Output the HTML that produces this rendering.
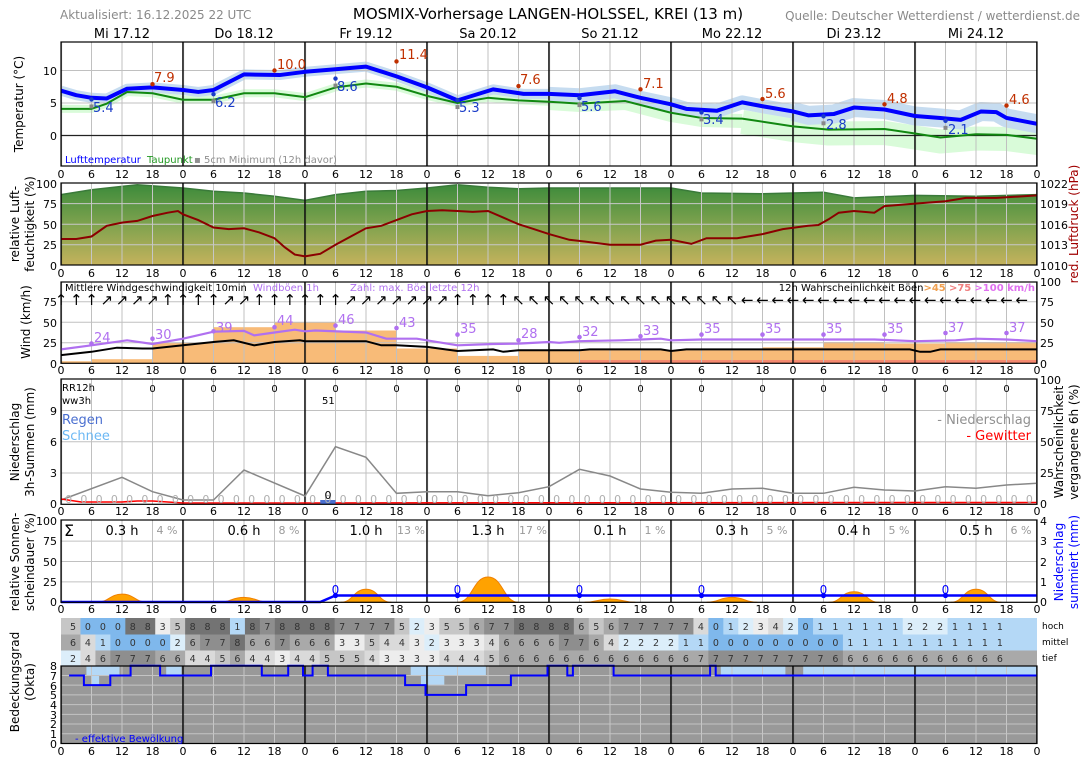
<!DOCTYPE html>
<html><head><meta charset="utf-8">
<style>
html,body{margin:0;padding:0;background:#fff;}
svg{display:block;font-family:"DejaVu Sans","Liberation Sans",sans-serif;}
.tk{font-size:11px;fill:#000;text-anchor:middle;}
.yl{font-size:11px;fill:#000;text-anchor:end;}
.yr{font-size:11px;fill:#000;text-anchor:start;}
.ax{font-size:13px;fill:#000;text-anchor:middle;}
</style></head>
<body>
<svg width="1088" height="763" viewBox="0 0 1088 763" xmlns="http://www.w3.org/2000/svg">
<defs>
<linearGradient id="hg" gradientUnits="userSpaceOnUse" x1="0" y1="183" x2="0" y2="265">
<stop offset="0" stop-color="#3a8a3a"/><stop offset="0.5" stop-color="#7ea24e"/><stop offset="1" stop-color="#c4b25c"/>
</linearGradient>
<pattern id="vg" x="60.5" y="0" width="30.5" height="10" patternUnits="userSpaceOnUse"><rect x="0" y="0" width="1" height="10" fill="#c0c0c0"/></pattern>
<pattern id="vgw" x="60.5" y="0" width="30.5" height="10" patternUnits="userSpaceOnUse"><rect x="0" y="0" width="1" height="10" fill="#c6c6c6"/></pattern>
<pattern id="dg" x="60.2" y="0" width="122" height="10" patternUnits="userSpaceOnUse"><rect x="0" y="0" width="1.6" height="10" fill="#111"/></pattern>
<clipPath id="tc"><rect x="61" y="42" width="976" height="124"/></clipPath>
</defs>

<!-- ============ TEMPERATURE ============ -->
<g fill="none" stroke-linejoin="round" stroke-linecap="butt" clip-path="url(#tc)">
<polyline stroke="#d9fbd9" stroke-width="8" points="61,108.85 91.5,108.85 106.75,103.65 127.08,91.95 152.5,93.25 183,99.75 213.5,99.75 244,93.25 274.5,93.25 305,97.15 335.5,87.4 366,83.5 396.5,86.75 427,95.85 457.5,103 488,97.8 518.5,100.4 549,101.7"/>
<polyline stroke="#d9fbd9" stroke-width="14" points="549,103 579.5,105 625.25,103 671,115 701.5,120 742.17,121"/>
<polyline stroke="#d9fbd9" stroke-width="24" points="742.17,122 793,130 828.58,133.5 884.5,133 915,137.5 940.42,141.5 976,138.5 1006.5,139 1037,143 1045,143"/>
<polyline stroke="#c6dcf0" stroke-width="10" points="61,90.65 76.25,95.2 91.5,97.8 106.75,98.45 127.08,88.7 152.5,87.4 183,90 198.25,91.95 213.5,90 244,74.4 279.58,75.05 305,71.8 335.5,69.2 366,66.6 396.5,76.35 427,87.4 457.5,100.4 493.08,89.35 523.58,93.9 549,93.9"/>
<polyline stroke="#c6dcf0" stroke-width="14" points="549,93.9 579.5,95.2 615.08,91.3 640.5,97.8 671,104.3 686.25,108.85 716.75,110.8 742.17,102.35 762.5,106.25 793,111.45"/>
<polyline stroke="#c6dcf0" stroke-width="19" points="793,111.45 808.25,115.35 833.67,114.05 854,107.55 884.5,109.5 915,116 940.42,117.95 960.75,119.9 981.08,111.45 996.33,112.1 1006.5,117.95 1037,123.8 1045,125"/>
</g>
<rect x="61" y="42" width="976" height="124" fill="url(#vg)"/>
<line x1="61" x2="1037" y1="70.5" y2="70.5" stroke="#c0c0c0"/>
<line x1="61" x2="1037" y1="103" y2="103" stroke="#c0c0c0"/>
<line x1="61" x2="1037" y1="135.5" y2="135.5" stroke="#222" stroke-width="1.2"/>
<rect x="61" y="42" width="976" height="124" fill="url(#dg)"/>
<polyline fill="none" stroke="#118811" stroke-width="2" stroke-linejoin="round" points="61,108.85 91.5,108.85 106.75,103.65 127.08,91.95 152.5,93.25 183,99.75 213.5,99.75 244,93.25 274.5,93.25 305,97.15 335.5,87.4 366,83.5 396.5,86.75 427,95.85 457.5,103 488,97.8 518.5,100.4 549,101.7 579.5,103.65 625.25,101.05 671,112.75 701.5,117.95 742.17,118.6 793,126.4 828.58,129.65 884.5,129 915,133.55 940.42,137.45 976,134.2 1006.5,134.85 1037,138.75"/>
<polyline fill="none" stroke="#0000ff" stroke-width="4" stroke-linejoin="round" points="61,90.65 76.25,95.2 91.5,97.8 106.75,98.45 127.08,88.7 152.5,87.4 183,90 198.25,91.95 213.5,90 244,74.4 279.58,75.05 305,71.8 335.5,69.2 366,66.6 396.5,76.35 427,87.4 457.5,100.4 493.08,89.35 523.58,93.9 549,93.9 579.5,95.2 615.08,91.3 640.5,97.8 671,104.3 686.25,108.85 716.75,110.8 742.17,102.35 762.5,106.25 793,111.45 808.25,115.35 833.67,114.05 854,107.55 884.5,109.5 915,116 940.42,117.95 960.75,119.9 981.08,111.45 996.33,112.1 1006.5,117.95 1037,123.8"/>
<g fill="#c03000">
<circle cx="152.5" cy="84.15" r="2.2"/><circle cx="274.5" cy="70.5" r="2.2"/><circle cx="396.5" cy="61.4" r="2.2"/><circle cx="518.5" cy="86.1" r="2.2"/>
<circle cx="640.5" cy="89.35" r="2.2"/><circle cx="762.5" cy="99.1" r="2.2"/><circle cx="884.5" cy="104.3" r="2.2"/><circle cx="1006.5" cy="105.6" r="2.2"/>
</g>
<g fill="#1a3cc8">
<circle cx="91.5" cy="99.4" r="2.2"/><circle cx="213.5" cy="94.2" r="2.2"/><circle cx="335.5" cy="78.6" r="2.2"/><circle cx="457.5" cy="100.05" r="2.2"/>
<circle cx="579.5" cy="98.1" r="2.2"/><circle cx="701.5" cy="112.4" r="2.2"/><circle cx="823.5" cy="116.3" r="2.2"/><circle cx="945.5" cy="120.85" r="2.2"/>
</g>
<g fill="#888">
<rect x="89.5" y="104.4" width="4" height="4"/><rect x="211.5" y="99.2" width="4" height="4"/><rect x="333.5" y="83.6" width="4" height="4"/><rect x="455.5" y="105.05" width="4" height="4"/>
<rect x="577.5" y="103.1" width="4" height="4"/><rect x="699.5" y="117.4" width="4" height="4"/><rect x="821.5" y="121.3" width="4" height="4"/><rect x="943.5" y="125.85" width="4" height="4"/>
</g>
<rect x="61" y="42" width="976" height="124" fill="none" stroke="#000" stroke-width="1.2"/>

<!-- ============ HUMIDITY ============ -->
<polygon fill="url(#hg)" points="61,265.3 61,194.6 91.5,189.7 122,186.4 137.25,184.7 183,188 213.5,191.3 244,193 274.5,196.3 305,200.4 335.5,194.6 366,191.3 396.5,190.5 427,188 457.5,184.7 488,187.2 518.5,188.8 549,188 671,188 701.5,193 762.5,193.8 793,193 823.5,192.2 854,197.9 915,195.4 976,196.3 1037,194.6 1037,265.3"/>
<polyline fill="none" stroke="#3a7a3a" stroke-width="1.5" points="61,194.6 91.5,189.7 122,186.4 137.25,184.7 183,188 213.5,191.3 244,193 274.5,196.3 305,200.4 335.5,194.6 366,191.3 396.5,190.5 427,188 457.5,184.7 488,187.2 518.5,188.8 549,188 671,188 701.5,193 762.5,193.8 793,193 823.5,192.2 854,197.9 915,195.4 976,196.3 1037,194.6"/>
<rect x="61" y="183" width="976" height="82" fill="url(#vgw)"/>
<line x1="61" x2="1037" y1="203.65" y2="203.65" stroke="#c8c8c8"/>
<line x1="61" x2="1037" y1="224.2" y2="224.2" stroke="#c8c8c8"/>
<line x1="61" x2="1037" y1="244.75" y2="244.75" stroke="#c8c8c8"/>
<rect x="61" y="183" width="976" height="82" fill="url(#dg)"/>
<polyline fill="none" stroke="#8b0000" stroke-width="2" points="61,239 76.25,239 91.5,236.5 106.75,225.8 122,222.6 137.25,220.9 152.5,216 167.75,212.7 177.92,211 183,214.3 198.25,220.1 213.5,227.5 228.75,229.1 244,228.3 259.25,232.4 274.5,238.2 284.67,247.2 294.83,254.6 305,256.3 320.25,253.8 335.5,244.75 350.75,236.5 366,228.3 381.25,225.8 396.5,220.1 411.75,214.3 427,211 442.25,210.2 457.5,211 472.75,211.9 488,211 503.25,217.6 518.5,224.2 533.75,229.1 549,234.1 569.33,239.8 584.58,241.5 610,244.75 640.5,244.75 655.75,240.6 671,239.8 691.33,243.9 706.58,238.2 737.08,238.2 762.5,234.1 782.83,229.1 808.25,225.8 818.42,225 828.58,219.3 838.75,212.7 854,211 874.33,212.7 884.5,206.1 915,203.65 945.5,201.2 965.83,197.9 996.33,197.9 1037,195.4"/>
<rect x="61" y="183" width="976" height="82" fill="none" stroke="#000" stroke-width="1.2"/>

<!-- ============ WIND ============ -->
<g fill="#f8bb78">
<rect x="61" y="361.25" width="30.5" height="2.05"/><rect x="91.5" y="359.2" width="61" height="4.1"/><rect x="152.5" y="342.8" width="61" height="20.5"/>
<rect x="213.5" y="327.2" width="61" height="36.1"/><rect x="274.5" y="322.3" width="61" height="41"/><rect x="335.5" y="330.5" width="61" height="32.8"/>
<rect x="396.5" y="348.5" width="61" height="14.8"/><rect x="457.5" y="355.9" width="61" height="7.4"/><rect x="518.5" y="351" width="30.5" height="12.3"/>
<rect x="549" y="350.2" width="213.5" height="13.1"/><rect x="762.5" y="347.3" width="61" height="16"/><rect x="823.5" y="342" width="61" height="21.3"/>
<rect x="884.5" y="343.6" width="61" height="19.7"/><rect x="945.5" y="342" width="91.5" height="21.3"/>
</g>
<rect x="579.5" y="360" width="457.5" height="3.3" fill="#f58a70"/>
<rect x="61" y="282" width="976" height="81.3" fill="url(#vg)"/>
<line x1="61" x2="1037" y1="301.8" y2="301.8" stroke="#c0c0c0"/>
<line x1="61" x2="1037" y1="322.3" y2="322.3" stroke="#c0c0c0"/>
<line x1="61" x2="1037" y1="342.8" y2="342.8" stroke="#c0c0c0"/>
<rect x="61" y="282" width="976" height="81.3" fill="url(#dg)"/>
<polyline fill="none" stroke="#b070f0" stroke-width="2.2" points="61,349.4 91.5,345.3 127.1,340.3 152.5,344 183,338.7 213.5,331.7 244,330.9 254.2,335.4 274.5,332.5 294.8,329.7 305,331.3 315.2,330.5 366,332.5 386.3,338.7 416.8,338.7 457.5,345.3 493.1,344 518.5,343.6 549,342 559.2,342.8 579.5,341.2 620.2,340.3 660.8,338.7 671,340.3 701.5,339.5 874.3,339.5 915,341.2 955.7,340.3 976,338.7 1006.5,339.5 1037,341.2"/>
<polyline fill="none" stroke="#000" stroke-width="2" points="61,355.1 91.5,351.8 116.9,347.7 142.3,348.5 152.5,348.5 183,345.3 213.5,342 233.8,340.3 254.2,345.3 274.5,342 299.9,340.3 305,341.2 366,341.2 381.25,345.3 396.5,345.3 427,346.9 457.5,351 493.1,349.4 503.25,351.8 518.5,350.2 579.5,350.2 589.7,349.4 660.8,349.4 671,351 686.25,349.4 909.9,349.4 920.1,351.8 930.25,351.8 940.4,349.4 1037,349.4"/>
<g fill="#b070f0">
<circle cx="91.5" cy="343.6" r="2.3"/><circle cx="152.5" cy="338.7" r="2.3"/><circle cx="213.5" cy="331.3" r="2.3"/><circle cx="274.5" cy="327.2" r="2.3"/>
<circle cx="335.5" cy="325.6" r="2.3"/><circle cx="396.5" cy="328" r="2.3"/><circle cx="457.5" cy="334.6" r="2.3"/><circle cx="518.5" cy="340.3" r="2.3"/>
<circle cx="579.5" cy="337.1" r="2.3"/><circle cx="640.5" cy="336.2" r="2.3"/><circle cx="701.5" cy="334.6" r="2.3"/><circle cx="762.5" cy="334.6" r="2.3"/>
<circle cx="823.5" cy="334.6" r="2.3"/><circle cx="884.5" cy="334.6" r="2.3"/><circle cx="945.5" cy="333" r="2.3"/><circle cx="1006.5" cy="333" r="2.3"/>
</g>
<text y="305" text-anchor="middle" style="font-size:15px;fill:#000" x="61 76.25 91.5 106.75 122 137.25 152.5 167.75 183 198.25 213.5 228.75 244 259.25 274.5 289.75 305 320.25 335.5 350.75 366 381.25 396.5 411.75 427 442.25 457.5 472.75 488 503.25 518.5 533.75 549 564.25 579.5 594.75 610 625.25 640.5 655.75 671 686.25 701.5 716.75 732 747.25 762.5 777.75 793 808.25 823.5 838.75 854 869.25 884.5 899.75 915 930.25 945.5 960.75 976 991.25 1006.5 1021.75">↑↑↑↗↗↗↗↑↑↑↑↗↗↑↑↑↑↑↑↗↗↗↗↗↗↗↑↑↑↑↖↖↖↖↖↖↖↖↖↖↖↖↖↖↖←←←←←←←←←←←←←←←←←←←</text>
<rect x="61" y="282" width="976" height="81.3" fill="none" stroke="#000" stroke-width="1.2"/>

<!-- ============ PRECIP ============ -->
<rect x="61" y="379" width="976" height="125.3" fill="url(#vg)"/>
<line x1="61" x2="1037" y1="410.55" y2="410.55" stroke="#c0c0c0"/>
<line x1="61" x2="1037" y1="441.8" y2="441.8" stroke="#c0c0c0"/>
<line x1="61" x2="1037" y1="473.05" y2="473.05" stroke="#c0c0c0"/>
<rect x="61" y="379" width="976" height="125.3" fill="url(#dg)"/>
<polyline fill="none" stroke="#888" stroke-width="1.5" points="61,500 122,477.3 152.5,491.7 183,500 213.5,500 244,470 305,496 335.5,446.7 366,457.3 396.5,493.3 427,491.7 457.5,491.7 488,495.7 518.5,492.7 549,486.7 579.5,469.3 610,476 640.5,489 671,492.3 701.5,493.3 732,489 762.5,488.3 793,493.3 823.5,493.3 854,487.3 884.5,490 915,491 945.5,486.7 976,488.3 1006.5,485 1037,483.3"/>
<polyline fill="none" stroke="#ff0000" stroke-width="1.6" points="61,499 81.3,502 122,502 137.3,501 152.5,501 183,503 305,503 1037,502.5"/>
<rect x="320.25" y="500" width="15.25" height="4" fill="#4a6fd0"/>
<text y="503" transform="translate(7.6,0)" text-anchor="middle" style="font-size:11px;fill:#b0b0b0" x="61 76.25 91.5 106.75 122 137.25 152.5 167.75 183 198.25 213.5 228.75 244 259.25 274.5 289.75 305 320.25 335.5 350.75 366 381.25 396.5 411.75 427 442.25 457.5 472.75 488 503.25 518.5 533.75 549 564.25 579.5 594.75 610 625.25 640.5 655.75 671 686.25 701.5 716.75 732 747.25 762.5 777.75 793 808.25 823.5 838.75 854 869.25 884.5 899.75 915 930.25 945.5 960.75 976 991.25 1006.5 1021.75">0000000000000000000000000000000000000000000000000000000000000000</text>
<rect x="61" y="379" width="976" height="125.3" fill="none" stroke="#000" stroke-width="1.2"/>

<!-- ============ SUN ============ -->
<rect x="61" y="520" width="976" height="82.3" fill="url(#vg)"/>
<line x1="61" x2="1037" y1="541.1" y2="541.1" stroke="#c0c0c0"/>
<line x1="61" x2="1037" y1="561.5" y2="561.5" stroke="#c0c0c0"/>
<line x1="61" x2="1037" y1="581.9" y2="581.9" stroke="#c0c0c0"/>
<rect x="61" y="520" width="976" height="82.3" fill="url(#dg)"/>
<g fill="#ffa200" stroke="#f08000" stroke-width="1">
<path d="M96.6,602.3 C109.3,602.3 109.3,594.14 122,594.14 C134.7,594.14 134.7,602.3 147.4,602.3 Z"/>
<path d="M218.6,602.3 C231.3,602.3 231.3,597.4 244,597.4 C256.7,597.4 256.7,602.3 269.4,602.3 Z"/>
<path d="M340.6,602.3 C353.3,602.3 353.3,589.24 366,589.24 C378.7,589.24 378.7,602.3 391.4,602.3 Z"/>
<path d="M457.5,602.3 C472.75,602.3 472.75,577 488,577 C503.25,577 503.25,602.3 518.5,602.3 Z"/>
<path d="M584.6,602.3 C597.3,602.3 597.3,599.04 610,599.04 C622.7,599.04 622.7,602.3 635.4,602.3 Z"/>
<path d="M706.6,602.3 C719.3,602.3 719.3,597.4 732,597.4 C744.7,597.4 744.7,602.3 757.4,602.3 Z"/>
<path d="M828.6,602.3 C841.3,602.3 841.3,591.7 854,591.7 C866.7,591.7 866.7,602.3 879.4,602.3 Z"/>
<path d="M950.6,602.3 C963.3,602.3 963.3,589.24 976,589.24 C988.7,589.24 988.7,602.3 1001.4,602.3 Z"/>
</g>
<polyline fill="none" stroke="#0000ff" stroke-width="2.5" points="61,602 320.25,602 335.5,595.5 1037,595.5"/>
<g fill="#0000ff">
<circle cx="335.5" cy="595.5" r="2.6"/><circle cx="457.5" cy="595.5" r="2.6"/><circle cx="579.5" cy="595.5" r="2.6"/><circle cx="701.5" cy="595.5" r="2.6"/><circle cx="823.5" cy="595.5" r="2.6"/><circle cx="945.5" cy="595.5" r="2.6"/>
</g>
<rect x="61" y="520" width="976" height="82.3" fill="none" stroke="#000" stroke-width="1.2"/>

<!-- ============ CLOUD TABLE ============ -->
<g>
<rect y="618" height="16.5" width="976" x="61" fill="#c6c6c6"/>
<rect y="618" height="16.5" x="80.48" width="956.52" fill="#7fb8ec"/>
<rect y="618" height="16.5" x="125.33" width="911.67" fill="#737373"/>
<rect y="618" height="16.5" x="155.23" width="881.77" fill="#ededed"/>
<rect y="618" height="16.5" x="170.18" width="866.82" fill="#c6c6c6"/>
<rect y="618" height="16.5" x="185.13" width="851.87" fill="#737373"/>
<rect y="618" height="16.5" x="229.98" width="807.02" fill="#b4d8f6"/>
<rect y="618" height="16.5" x="244.93" width="792.07" fill="#737373"/>
<rect y="618" height="16.5" x="259.88" width="777.12" fill="#8e8e8e"/>
<rect y="618" height="16.5" x="274.83" width="762.17" fill="#737373"/>
<rect y="618" height="16.5" x="334.63" width="702.37" fill="#8e8e8e"/>
<rect y="618" height="16.5" x="394.43" width="642.57" fill="#c6c6c6"/>
<rect y="618" height="16.5" x="409.38" width="627.62" fill="#dceefa"/>
<rect y="618" height="16.5" x="424.33" width="612.67" fill="#ededed"/>
<rect y="618" height="16.5" x="439.28" width="597.72" fill="#c6c6c6"/>
<rect y="618" height="16.5" x="469.18" width="567.82" fill="#a9a9a9"/>
<rect y="618" height="16.5" x="484.13" width="552.87" fill="#8e8e8e"/>
<rect y="618" height="16.5" x="514.03" width="522.97" fill="#737373"/>
<rect y="618" height="16.5" x="573.83" width="463.17" fill="#a9a9a9"/>
<rect y="618" height="16.5" x="588.78" width="448.22" fill="#c6c6c6"/>
<rect y="618" height="16.5" x="603.73" width="433.27" fill="#a9a9a9"/>
<rect y="618" height="16.5" x="618.68" width="418.32" fill="#8e8e8e"/>
<rect y="618" height="16.5" x="693.43" width="343.57" fill="#dadada"/>
<rect y="618" height="16.5" x="708.38" width="328.62" fill="#7fb8ec"/>
<rect y="618" height="16.5" x="723.33" width="313.67" fill="#b4d8f6"/>
<rect y="618" height="16.5" x="738.28" width="298.72" fill="#dceefa"/>
<rect y="618" height="16.5" x="753.23" width="283.77" fill="#ededed"/>
<rect y="618" height="16.5" x="768.18" width="268.82" fill="#dadada"/>
<rect y="618" height="16.5" x="783.13" width="253.87" fill="#dceefa"/>
<rect y="618" height="16.5" x="798.08" width="238.92" fill="#7fb8ec"/>
<rect y="618" height="16.5" x="813.03" width="223.97" fill="#b4d8f6"/>
<rect y="618" height="16.5" x="902.73" width="134.27" fill="#dceefa"/>
<rect y="618" height="16.5" x="947.58" width="89.42" fill="#b4d8f6"/>
<rect y="634.5" height="16" x="61" width="976" fill="#a9a9a9"/>
<rect y="634.5" height="16" x="80.48" width="956.52" fill="#dadada"/>
<rect y="634.5" height="16" x="95.43" width="941.57" fill="#b4d8f6"/>
<rect y="634.5" height="16" x="110.38" width="926.62" fill="#7fb8ec"/>
<rect y="634.5" height="16" x="170.18" width="866.82" fill="#dceefa"/>
<rect y="634.5" height="16" x="185.13" width="851.87" fill="#a9a9a9"/>
<rect y="634.5" height="16" x="200.08" width="836.92" fill="#8e8e8e"/>
<rect y="634.5" height="16" x="229.98" width="807.02" fill="#737373"/>
<rect y="634.5" height="16" x="244.93" width="792.07" fill="#a9a9a9"/>
<rect y="634.5" height="16" x="274.83" width="762.17" fill="#8e8e8e"/>
<rect y="634.5" height="16" x="289.78" width="747.22" fill="#a9a9a9"/>
<rect y="634.5" height="16" x="334.63" width="702.37" fill="#ededed"/>
<rect y="634.5" height="16" x="364.53" width="672.47" fill="#c6c6c6"/>
<rect y="634.5" height="16" x="379.48" width="657.52" fill="#dadada"/>
<rect y="634.5" height="16" x="409.38" width="627.62" fill="#ededed"/>
<rect y="634.5" height="16" x="424.33" width="612.67" fill="#dceefa"/>
<rect y="634.5" height="16" x="439.28" width="597.72" fill="#ededed"/>
<rect y="634.5" height="16" x="484.13" width="552.87" fill="#dadada"/>
<rect y="634.5" height="16" x="499.08" width="537.92" fill="#a9a9a9"/>
<rect y="634.5" height="16" x="558.88" width="478.12" fill="#8e8e8e"/>
<rect y="634.5" height="16" x="588.78" width="448.22" fill="#a9a9a9"/>
<rect y="634.5" height="16" x="603.73" width="433.27" fill="#dadada"/>
<rect y="634.5" height="16" x="618.68" width="418.32" fill="#dceefa"/>
<rect y="634.5" height="16" x="678.48" width="358.52" fill="#b4d8f6"/>
<rect y="634.5" height="16" x="708.38" width="328.62" fill="#7fb8ec"/>
<rect y="634.5" height="16" x="842.93" width="194.07" fill="#b4d8f6"/>
<rect y="650.5" height="15.5" x="61" width="976" fill="#dceefa"/>
<rect y="650.5" height="15.5" x="80.48" width="956.52" fill="#dadada"/>
<rect y="650.5" height="15.5" x="95.43" width="941.57" fill="#a9a9a9"/>
<rect y="650.5" height="15.5" x="110.38" width="926.62" fill="#8e8e8e"/>
<rect y="650.5" height="15.5" x="155.23" width="881.77" fill="#a9a9a9"/>
<rect y="650.5" height="15.5" x="185.13" width="851.87" fill="#dadada"/>
<rect y="650.5" height="15.5" x="215.03" width="821.97" fill="#c6c6c6"/>
<rect y="650.5" height="15.5" x="229.98" width="807.02" fill="#a9a9a9"/>
<rect y="650.5" height="15.5" x="244.93" width="792.07" fill="#dadada"/>
<rect y="650.5" height="15.5" x="274.83" width="762.17" fill="#ededed"/>
<rect y="650.5" height="15.5" x="289.78" width="747.22" fill="#dadada"/>
<rect y="650.5" height="15.5" x="319.68" width="717.32" fill="#c6c6c6"/>
<rect y="650.5" height="15.5" x="364.53" width="672.47" fill="#dadada"/>
<rect y="650.5" height="15.5" x="379.48" width="657.52" fill="#ededed"/>
<rect y="650.5" height="15.5" x="439.28" width="597.72" fill="#dadada"/>
<rect y="650.5" height="15.5" x="484.13" width="552.87" fill="#c6c6c6"/>
<rect y="650.5" height="15.5" x="499.08" width="537.92" fill="#a9a9a9"/>
<rect y="650.5" height="15.5" x="708.38" width="328.62" fill="#8e8e8e"/>
<rect y="650.5" height="15.5" x="842.93" width="194.07" fill="#a9a9a9"/>
</g>
<g style="font-size:9.5px;fill:#333" text-anchor="middle">
<text y="630" x="73 87.95 102.9 117.85 132.8 147.75 162.7 177.65 192.6 207.55 222.5 237.45 252.4 267.35 282.3 297.25 312.2 327.15 342.1 357.05 372 386.95 401.9 416.85 431.8 446.75 461.7 476.65 491.6 506.55 521.5 536.45 551.4 566.35 581.3 596.25 611.2 626.15 641.1 656.05 671 685.95 700.9 715.85 730.8 745.75 760.7 775.65 790.6 805.55 820.5 835.45 850.4 865.35 880.3 895.25 910.2 925.15 940.1 955.05 970 984.95 999.9">500088358881878888777752355677888865677777401234201111112221111</text>
<text y="646" x="73 87.95 102.9 117.85 132.8 147.75 162.7 177.65 192.6 207.55 222.5 237.45 252.4 267.35 282.3 297.25 312.2 327.15 342.1 357.05 372 386.95 401.9 416.85 431.8 446.75 461.7 476.65 491.6 506.55 521.5 536.45 551.4 566.35 581.3 596.25 611.2 626.15 641.1 656.05 671 685.95 700.9 715.85 730.8 745.75 760.7 775.65 790.6 805.55 820.5 835.45 850.4 865.35 880.3 895.25 910.2 925.15 940.1 955.05 970 984.95 999.9">641000026778667666335443233346666776422221100000000011111111111</text>
<text y="662" x="73 87.95 102.9 117.85 132.8 147.75 162.7 177.65 192.6 207.55 222.5 237.45 252.4 267.35 282.3 297.25 312.2 327.15 342.1 357.05 372 386.95 401.9 416.85 431.8 446.75 461.7 476.65 491.6 506.55 521.5 536.45 551.4 566.35 581.3 596.25 611.2 626.15 641.1 656.05 671 685.95 700.9 715.85 730.8 745.75 760.7 775.65 790.6 805.55 820.5 835.45 850.4 865.35 880.3 895.25 910.2 925.15 940.1 955.05 970 984.95 999.9">246777664456443445554333344456666666666666777777777666666666666</text>
</g>

<!-- ============ CLOUD PLOT ============ -->
<rect x="61" y="666" width="976" height="77.5" fill="#999"/>
<g fill="#b4d8f6">
<rect x="86.42" y="665.74" width="33.04" height="9.72"/><rect x="91.5" y="675.46" width="7.62" height="9.72"/>
<rect x="166.2" y="665.74" width="15.25" height="9.72"/><rect x="410.7" y="665.74" width="75.2" height="9.72"/>
<rect x="420.9" y="675.46" width="23.4" height="9.72"/><rect x="720.8" y="665.74" width="64.6" height="9.72"/>
<rect x="803.2" y="665.74" width="233.8" height="9.72"/>
</g>
<rect x="61" y="666" width="976" height="77.5" fill="url(#vgw)"/>
<g stroke="#c4c4c4">
<line x1="61" x2="1037" y1="675.46" y2="675.46"/><line x1="61" x2="1037" y1="685.18" y2="685.18"/><line x1="61" x2="1037" y1="694.9" y2="694.9"/>
<line x1="61" x2="1037" y1="704.62" y2="704.62"/><line x1="61" x2="1037" y1="714.34" y2="714.34"/><line x1="61" x2="1037" y1="724.06" y2="724.06"/><line x1="61" x2="1037" y1="733.78" y2="733.78"/>
</g>
<rect x="61" y="666" width="976" height="77.5" fill="url(#dg)"/>
<polyline fill="none" stroke="#0000ff" stroke-width="2" points="69.1,675.46 83.9,675.46 83.9,685.18 110.3,685.18 110.3,675.46 130.6,675.46 130.6,665.74 160.1,665.74 160.1,675.46 211,675.46 211,665.74 261.8,665.74 261.8,675.46 288.2,675.46 288.2,665.74 303,665.74 303,675.46 312.6,675.46 312.6,665.74 327.9,665.74 327.9,675.46 405.1,675.46 405.1,685.18 425.5,685.18 425.5,694.9 466.1,694.9 466.1,685.18 510.9,685.18 510.9,675.46 547.5,675.46 547.5,665.74 567.3,665.74 567.3,675.46 572.9,675.46 572.9,665.74 613.6,665.74 613.6,675.46 710.1,675.46 710.1,665.74 715.7,665.74 715.7,675.46 1037,675.46"/>
<rect x="61" y="666" width="976" height="77.5" fill="none" stroke="#000" stroke-width="1.2"/>

<!-- ============ TEXT ============ -->
<text x="60" y="19" style="font-size:12px;fill:#8a8a8a">Aktualisiert: 16.12.2025 22 UTC</text>
<text x="548" y="19" style="font-size:15px;fill:#000;text-anchor:middle">MOSMIX-Vorhersage LANGEN-HOLSSEL, KREI (13 m)</text>
<text x="1080" y="20" style="font-size:12px;fill:#8a8a8a;text-anchor:end">Quelle: Deutscher Wetterdienst / wetterdienst.de</text>
<g class="ax">
<text x="122" y="38">Mi 17.12</text><text x="244" y="38">Do 18.12</text><text x="366" y="38">Fr 19.12</text><text x="488" y="38">Sa 20.12</text>
<text x="610" y="38">So 21.12</text><text x="732" y="38">Mo 22.12</text><text x="854" y="38">Di 23.12</text><text x="976" y="38">Mi 24.12</text>
</g>

<g style="font-size:12px;fill:#000;text-anchor:middle">
<text transform="translate(23,104) rotate(-90)">Temperatur (°C)</text>
<text transform="translate(19,224) rotate(-90)">relative Luft-</text>
<text transform="translate(34,224) rotate(-90)">feuchtigkeit (%)</text>
<text transform="translate(30,322) rotate(-90)">Wind (km/h)</text>
<text transform="translate(19,442) rotate(-90)">Niederschlag</text>
<text transform="translate(34,442) rotate(-90)">3h-Summen (mm)</text>
<text transform="translate(19,562) rotate(-90)">relative Sonnen-</text>
<text transform="translate(34,562) rotate(-90)">scheindauer (%)</text>
<text transform="translate(19,682) rotate(-90)">Bedeckungsgrad</text>
<text transform="translate(34,682) rotate(-90)">(Okta)</text>
<text transform="translate(1078,224) rotate(-90)" style="fill:#a00000">red. Luftdruck (hPa)</text>
<text transform="translate(1063,442) rotate(-90)">Wahrscheinlichkeit</text>
<text transform="translate(1078,442) rotate(-90)">vergangene 6h (%)</text>
<text transform="translate(1063,562) rotate(-90)" style="fill:#0000ff">Niederschlag</text>
<text transform="translate(1078,562) rotate(-90)" style="fill:#0000ff">summiert (mm)</text>
</g>

<g class="yl">
<text x="57" y="75">10</text><text x="57" y="107">5</text><text x="57" y="140">0</text>
<text x="57" y="188">100</text><text x="57" y="208">75</text><text x="57" y="229">50</text><text x="57" y="249">25</text><text x="57" y="270">0</text>
<text x="57" y="306">75</text><text x="57" y="327">50</text><text x="57" y="347">25</text><text x="57" y="368">0</text>
<text x="57" y="415">9</text><text x="57" y="446">6</text><text x="57" y="477">3</text><text x="57" y="508">0</text>
<text x="57" y="525">100</text><text x="57" y="545">75</text><text x="57" y="566">50</text><text x="57" y="586">25</text><text x="57" y="606">0</text>
</g>
<g style="font-size:11px;text-anchor:end">
<text x="57" y="670">8</text><text x="57" y="680">7</text><text x="57" y="690">6</text><text x="57" y="699">5</text><text x="57" y="709">4</text><text x="57" y="719">3</text><text x="57" y="728">2</text><text x="57" y="738">1</text><text x="57" y="748">0</text>
</g>
<g class="yr">
<text x="1040" y="188">1022</text><text x="1040" y="208">1019</text><text x="1040" y="229">1016</text><text x="1040" y="249">1013</text><text x="1040" y="270">1010</text>
<text x="1040" y="286">100</text><text x="1040" y="306">75</text><text x="1040" y="327">50</text><text x="1040" y="347">25</text><text x="1040" y="368">0</text>
<text x="1040" y="384">100</text><text x="1040" y="415">75</text><text x="1040" y="446">50</text><text x="1040" y="477">25</text><text x="1040" y="508">0</text>
<text x="1040" y="525">4</text><text x="1040" y="545">3</text><text x="1040" y="566">2</text><text x="1040" y="586">1</text><text x="1040" y="606">0</text>
</g>

<g class="tk">
<text y="178"><tspan x="61">0</tspan><tspan x="91.5">6</tspan><tspan x="122">12</tspan><tspan x="152.5">18</tspan><tspan x="183">0</tspan><tspan x="213.5">6</tspan><tspan x="244">12</tspan><tspan x="274.5">18</tspan><tspan x="305">0</tspan><tspan x="335.5">6</tspan><tspan x="366">12</tspan><tspan x="396.5">18</tspan><tspan x="427">0</tspan><tspan x="457.5">6</tspan><tspan x="488">12</tspan><tspan x="518.5">18</tspan><tspan x="549">0</tspan><tspan x="579.5">6</tspan><tspan x="610">12</tspan><tspan x="640.5">18</tspan><tspan x="671">0</tspan><tspan x="701.5">6</tspan><tspan x="732">12</tspan><tspan x="762.5">18</tspan><tspan x="793">0</tspan><tspan x="823.5">6</tspan><tspan x="854">12</tspan><tspan x="884.5">18</tspan><tspan x="915">0</tspan><tspan x="945.5">6</tspan><tspan x="976">12</tspan><tspan x="1006.5">18</tspan><tspan x="1037">0</tspan></text>
<text y="277"><tspan x="61">0</tspan><tspan x="91.5">6</tspan><tspan x="122">12</tspan><tspan x="152.5">18</tspan><tspan x="183">0</tspan><tspan x="213.5">6</tspan><tspan x="244">12</tspan><tspan x="274.5">18</tspan><tspan x="305">0</tspan><tspan x="335.5">6</tspan><tspan x="366">12</tspan><tspan x="396.5">18</tspan><tspan x="427">0</tspan><tspan x="457.5">6</tspan><tspan x="488">12</tspan><tspan x="518.5">18</tspan><tspan x="549">0</tspan><tspan x="579.5">6</tspan><tspan x="610">12</tspan><tspan x="640.5">18</tspan><tspan x="671">0</tspan><tspan x="701.5">6</tspan><tspan x="732">12</tspan><tspan x="762.5">18</tspan><tspan x="793">0</tspan><tspan x="823.5">6</tspan><tspan x="854">12</tspan><tspan x="884.5">18</tspan><tspan x="915">0</tspan><tspan x="945.5">6</tspan><tspan x="976">12</tspan><tspan x="1006.5">18</tspan><tspan x="1037">0</tspan></text>
<text y="374"><tspan x="61">0</tspan><tspan x="91.5">6</tspan><tspan x="122">12</tspan><tspan x="152.5">18</tspan><tspan x="183">0</tspan><tspan x="213.5">6</tspan><tspan x="244">12</tspan><tspan x="274.5">18</tspan><tspan x="305">0</tspan><tspan x="335.5">6</tspan><tspan x="366">12</tspan><tspan x="396.5">18</tspan><tspan x="427">0</tspan><tspan x="457.5">6</tspan><tspan x="488">12</tspan><tspan x="518.5">18</tspan><tspan x="549">0</tspan><tspan x="579.5">6</tspan><tspan x="610">12</tspan><tspan x="640.5">18</tspan><tspan x="671">0</tspan><tspan x="701.5">6</tspan><tspan x="732">12</tspan><tspan x="762.5">18</tspan><tspan x="793">0</tspan><tspan x="823.5">6</tspan><tspan x="854">12</tspan><tspan x="884.5">18</tspan><tspan x="915">0</tspan><tspan x="945.5">6</tspan><tspan x="976">12</tspan><tspan x="1006.5">18</tspan><tspan x="1037">0</tspan></text>
<text y="515"><tspan x="61">0</tspan><tspan x="91.5">6</tspan><tspan x="122">12</tspan><tspan x="152.5">18</tspan><tspan x="183">0</tspan><tspan x="213.5">6</tspan><tspan x="244">12</tspan><tspan x="274.5">18</tspan><tspan x="305">0</tspan><tspan x="335.5">6</tspan><tspan x="366">12</tspan><tspan x="396.5">18</tspan><tspan x="427">0</tspan><tspan x="457.5">6</tspan><tspan x="488">12</tspan><tspan x="518.5">18</tspan><tspan x="549">0</tspan><tspan x="579.5">6</tspan><tspan x="610">12</tspan><tspan x="640.5">18</tspan><tspan x="671">0</tspan><tspan x="701.5">6</tspan><tspan x="732">12</tspan><tspan x="762.5">18</tspan><tspan x="793">0</tspan><tspan x="823.5">6</tspan><tspan x="854">12</tspan><tspan x="884.5">18</tspan><tspan x="915">0</tspan><tspan x="945.5">6</tspan><tspan x="976">12</tspan><tspan x="1006.5">18</tspan><tspan x="1037">0</tspan></text>
<text y="613"><tspan x="61">0</tspan><tspan x="91.5">6</tspan><tspan x="122">12</tspan><tspan x="152.5">18</tspan><tspan x="183">0</tspan><tspan x="213.5">6</tspan><tspan x="244">12</tspan><tspan x="274.5">18</tspan><tspan x="305">0</tspan><tspan x="335.5">6</tspan><tspan x="366">12</tspan><tspan x="396.5">18</tspan><tspan x="427">0</tspan><tspan x="457.5">6</tspan><tspan x="488">12</tspan><tspan x="518.5">18</tspan><tspan x="549">0</tspan><tspan x="579.5">6</tspan><tspan x="610">12</tspan><tspan x="640.5">18</tspan><tspan x="671">0</tspan><tspan x="701.5">6</tspan><tspan x="732">12</tspan><tspan x="762.5">18</tspan><tspan x="793">0</tspan><tspan x="823.5">6</tspan><tspan x="854">12</tspan><tspan x="884.5">18</tspan><tspan x="915">0</tspan><tspan x="945.5">6</tspan><tspan x="976">12</tspan><tspan x="1006.5">18</tspan><tspan x="1037">0</tspan></text>
<text y="755"><tspan x="61">0</tspan><tspan x="91.5">6</tspan><tspan x="122">12</tspan><tspan x="152.5">18</tspan><tspan x="183">0</tspan><tspan x="213.5">6</tspan><tspan x="244">12</tspan><tspan x="274.5">18</tspan><tspan x="305">0</tspan><tspan x="335.5">6</tspan><tspan x="366">12</tspan><tspan x="396.5">18</tspan><tspan x="427">0</tspan><tspan x="457.5">6</tspan><tspan x="488">12</tspan><tspan x="518.5">18</tspan><tspan x="549">0</tspan><tspan x="579.5">6</tspan><tspan x="610">12</tspan><tspan x="640.5">18</tspan><tspan x="671">0</tspan><tspan x="701.5">6</tspan><tspan x="732">12</tspan><tspan x="762.5">18</tspan><tspan x="793">0</tspan><tspan x="823.5">6</tspan><tspan x="854">12</tspan><tspan x="884.5">18</tspan><tspan x="915">0</tspan><tspan x="945.5">6</tspan><tspan x="976">12</tspan><tspan x="1006.5">18</tspan><tspan x="1037">0</tspan></text>
</g>

<g style="font-size:13px;fill:#c03000">
<text x="154" y="82">7.9</text><text x="277" y="69">10.0</text><text x="399" y="59">11.4</text><text x="520" y="84">7.6</text>
<text x="643" y="88">7.1</text><text x="765" y="98">5.6</text><text x="887" y="103">4.8</text><text x="1009" y="104">4.6</text>
</g>
<g style="font-size:13px;fill:#1a3cc8">
<text x="93" y="112">5.4</text><text x="215" y="107">6.2</text><text x="337" y="91">8.6</text><text x="459" y="112">5.3</text>
<text x="581" y="111">5.6</text><text x="703" y="124">3.4</text><text x="826" y="129">2.8</text><text x="948" y="134">2.1</text>
</g>
<g style="font-size:10px">
<text x="65" y="163" fill="#0000ff">Lufttemperatur</text>
<text x="147" y="163" fill="#229922">Taupunkt</text>
<text x="194" y="163" fill="#909090">▪ 5cm Minimum (12h davor)</text>
</g>

<g style="font-size:10px">
<text x="65" y="291" fill="#000">Mittlere Windgeschwindigkeit 10min</text>
<text x="253" y="291" fill="#b070f0">Windböen 1h</text>
<text x="350" y="291" fill="#b070f0">Zahl: max. Böe letzte 12h</text>
<text x="1035" y="291" text-anchor="end" fill="#000">12h Wahrscheinlichkeit Böen<tspan fill="#f0a050" font-weight="bold">&gt;45</tspan> <tspan fill="#f08080" font-weight="bold">&gt;75</tspan> <tspan fill="#e070f0" font-weight="bold">&gt;100 km/h</tspan></text>
</g>
<g style="font-size:13px;fill:#b070f0">
<text x="94" y="342">24</text><text x="155" y="339">30</text><text x="216" y="332">39</text><text x="277" y="325">44</text>
<text x="338" y="324">46</text><text x="399" y="327">43</text><text x="460" y="333">35</text><text x="521" y="338">28</text>
<text x="582" y="336">32</text><text x="643" y="335">33</text><text x="704" y="333">35</text><text x="765" y="333">35</text>
<text x="826" y="333">35</text><text x="887" y="333">35</text><text x="948" y="332">37</text><text x="1009" y="332">37</text>
</g>

<g style="font-size:10px;fill:#000">
<text x="62" y="391">RR12h</text><text x="62" y="404">ww3h</text><text x="322" y="404">51</text>
<text y="392" text-anchor="middle" x="152.5 213.5 274.5 335.5 396.5 457.5 518.5 579.5 640.5 701.5 762.5 823.5 884.5 945.5 1006.5">000000000000000</text>
</g>
<text x="62" y="424" style="font-size:13px;fill:#4a6fd0">Regen</text>
<text x="62" y="440" style="font-size:13px;fill:#6cb8f4">Schnee</text>
<text x="1031" y="424" style="font-size:13px;fill:#909090;text-anchor:end">- Niederschlag</text>
<text x="1031" y="440" style="font-size:13px;fill:#ff0000;text-anchor:end">- Gewitter</text>
<text x="328" y="499" style="font-size:11px;fill:#000;text-anchor:middle">0</text>

<text x="64" y="536" style="font-size:16px">Σ</text>
<g style="font-size:13px;fill:#000;text-anchor:middle">
<text x="122" y="535">0.3 h</text><text x="244" y="535">0.6 h</text><text x="366" y="535">1.0 h</text><text x="488" y="535">1.3 h</text>
<text x="610" y="535">0.1 h</text><text x="732" y="535">0.3 h</text><text x="854" y="535">0.4 h</text><text x="976" y="535">0.5 h</text>
</g>
<g style="font-size:11px;fill:#999;text-anchor:middle">
<text x="167" y="534">4 %</text><text x="289" y="534">8 %</text><text x="411" y="534">13 %</text><text x="533" y="534">17 %</text>
<text x="655" y="534">1 %</text><text x="777" y="534">5 %</text><text x="899" y="534">5 %</text><text x="1021" y="534">6 %</text>
</g>
<g style="font-size:12px;fill:#0000ff;text-anchor:middle">
<text x="335.5" y="594">0</text><text x="457.5" y="594">0</text><text x="579.5" y="594">0</text><text x="701.5" y="594">0</text><text x="823.5" y="594">0</text><text x="945.5" y="594">0</text>
</g>

<g style="font-size:9px;fill:#000">
<text x="1042" y="629">hoch</text><text x="1042" y="645">mittel</text><text x="1042" y="661">tief</text>
</g>
<text x="75" y="742" style="font-size:10px;fill:#0000ff">- effektive Bewölkung</text>
</svg>
</body></html>
